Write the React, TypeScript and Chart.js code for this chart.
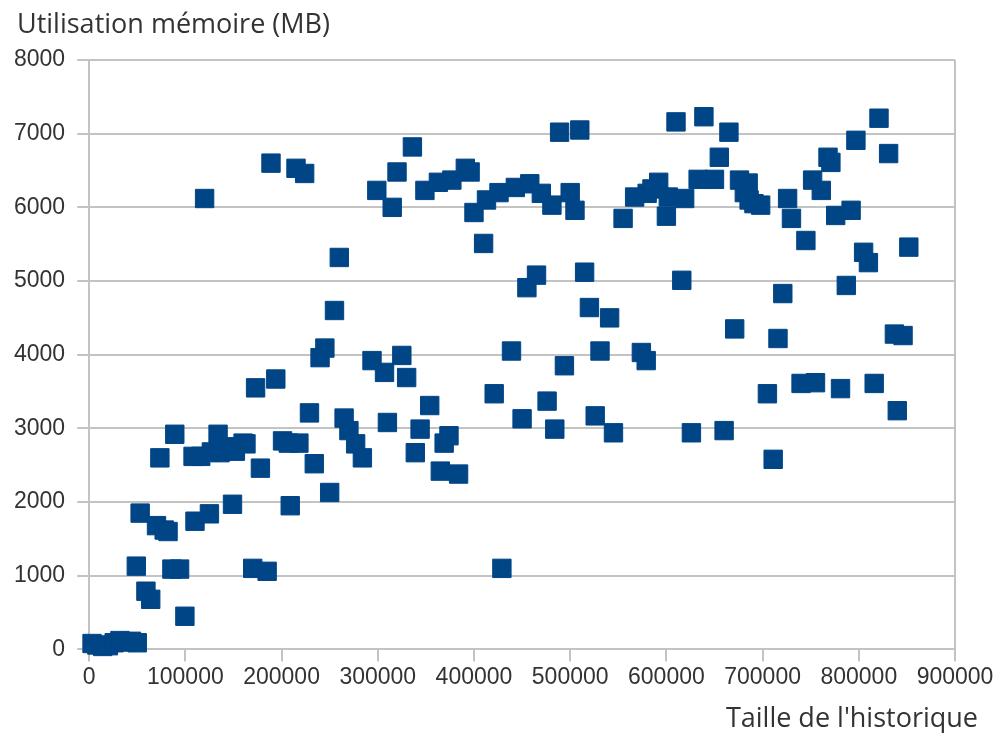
import React, { useEffect, useRef } from 'react';
import { Chart, registerables } from 'chart.js';

Chart.register(...registerables);

// Data
const historySize = [
  3000, 8000, 14000, 20000, 26000, 32000, 38000, 44000, 50000,
  49000, 53000, 59000, 64000, 70000, 73500, 78000, 82000, 86000, 89000,
  94000, 99500, 108000, 110000, 116000, 120000, 125000, 127000, 134000, 136000,
  143000, 149000, 152000, 160000, 163000, 170000, 173000, 178000, 185000, 189000,
  194000, 201000, 207000, 209000, 215000, 218000, 224000, 229000, 234000, 240000,
  245000, 250000, 255000, 260000, 265000, 270000, 277000, 284000, 294000, 299000,
  307000, 310000, 315000, 320000, 325000, 330000, 336000, 339000, 344000, 349000,
  354000, 363000, 365000, 369000, 374000, 377000, 384000, 391000, 396000, 400000,
  410000, 413000, 421000, 426000, 429000, 439000, 443000, 450000, 455000, 458000,
  465000, 470000, 476000, 481000, 484000, 489000, 494000, 500000, 505000, 510000,
  515000, 520000, 526000, 531000, 541000, 545000, 555000, 567000, 574000, 579000,
  580000, 585000, 592000, 600000, 602000, 610000, 616000, 619000, 626000, 633000,
  639000, 650000, 655000, 660000, 665000, 671000, 676000, 681000, 685000, 686000,
  691000, 698000, 705000, 711000, 716000, 721000, 726000, 730000, 740000, 745000,
  752000, 755000, 761000, 768000, 771000, 776000, 781000, 787000, 792000, 797000,
  805000, 810000, 816000, 821000, 831000, 837000, 840000, 846000, 852000,
];

const memoryMB = [
  80, 60, 40, 50, 90, 120, 100, 110, 90,
  1130, 1850, 790, 680, 1680, 2600, 1620, 1600, 1090, 2920,
  1090, 450, 2620, 1740, 2620, 6120, 1840, 2680, 2920, 2670,
  2750, 1970, 2690, 2800, 2790, 1100, 3550, 2460, 1060, 6600,
  3670, 2830, 2800, 1950, 6530, 2800, 6460, 3210, 2520, 3960,
  4090, 2130, 4600, 5320, 3140, 2970, 2790, 2600, 3920, 6230,
  3760, 3080, 6000, 6480, 3990, 3690, 6820, 2670, 2990, 6230,
  3310, 6340, 2420, 2800, 2900, 6370, 2380, 6530, 6480, 5930,
  5510, 6100, 3470, 6200, 1100, 4050, 6270, 3130, 4910, 6320,
  5080, 6190, 3370, 6030, 2990, 7020, 3850, 6200, 5960, 7050,
  5120, 4640, 3170, 4050, 4500, 2940, 5850, 6140, 4030, 3920,
  6190, 6250, 6340, 5880, 6140, 7160, 5010, 6120, 2940, 6380,
  7230, 6380, 6680, 2970, 7020, 4350, 6370, 6200, 6330, 6100,
  6050, 6030, 3470, 2580, 4220, 4830, 6120, 5850, 3610, 5550,
  6370, 3620, 6230, 6680, 6610, 5890, 3540, 4940, 5960, 6910,
  5390, 5250, 3610, 7210, 6730, 4280, 3240, 4260, 5460,
];

const X_MIN = 0;
const X_MAX = 900000;
const X_STEP = 100000;
const Y_MIN = 0;
const Y_MAX = 8000;
const Y_STEP = 1000;

const Y_TITLE = 'Utilisation mémoire (MB)';
const X_TITLE = "Taille de l'historique";

const MARKER = '#004586';
const GRID = '#c3c3c3';
const TEXT = '#333333';
const TICK_FONT = { family: '"Liberation Sans", Arial, sans-serif', size: 23 };

const axisTitles = {
  id: 'axisTitles',
  afterDraw(chart: any) {
    const { ctx, chartArea } = chart;
    ctx.save();
    ctx.font = '27px "Open Sans", sans-serif';
    ctx.fillStyle = TEXT;
    ctx.textBaseline = 'alphabetic';
    ctx.textAlign = 'left';
    ctx.fillText(Y_TITLE, 17, 33);
    ctx.textAlign = 'right';
    ctx.fillText(X_TITLE, chartArea.right + 23, 727);
    ctx.restore();
  },
};

export default function App() {
  const canvasRef = useRef<HTMLCanvasElement | null>(null);

  useEffect(() => {
    let chart: Chart | null = null;
    let cancelled = false;
    const fontsReady = (document as any).fonts
      ? Promise.all([
          (document as any).fonts.load('27px "Open Sans"'),
          (document as any).fonts.load('23px "Liberation Sans"'),
        ]).catch(() => null)
      : Promise.resolve(null);

    fontsReady.then(() => {
      if (cancelled || !canvasRef.current) return;
      const points = historySize.map((x, i) => ({ x, y: memoryMB[i] }));
      chart = new Chart(canvasRef.current, {
        type: 'scatter',
        data: {
          datasets: [
            {
              data: points,
              pointStyle: 'rect',
              pointRadius: 13,
              pointHoverRadius: 13,
              backgroundColor: MARKER,
              borderColor: MARKER,
              borderWidth: 1,
              clip: false as any,
            },
          ],
        },
        options: {
          responsive: false,
          animation: false,
          events: [],
          layout: { padding: { left: 2, right: 48, top: 60, bottom: 40 } },
          plugins: {
            legend: { display: false },
            tooltip: { enabled: false },
            title: { display: false },
          },
          scales: {
            x: {
              type: 'linear',
              min: X_MIN,
              max: X_MAX,
              ticks: {
                stepSize: X_STEP,
                font: TICK_FONT,
                color: TEXT,
                padding: 2,
                maxRotation: 0,
                callback: (v: any) => String(v),
              },
              grid: {
                color: (c: any) => (c.tick && c.tick.value === X_MAX ? GRID : 'rgba(0,0,0,0)'),
                tickColor: GRID,
                tickLength: 12,
                lineWidth: 2,
              },
              border: { display: true, color: GRID, width: 2 },
            },
            y: {
              type: 'linear',
              min: Y_MIN,
              max: Y_MAX,
              ticks: {
                stepSize: Y_STEP,
                font: TICK_FONT,
                color: TEXT,
                padding: 12,
                callback: (v: any) => String(v),
              },
              grid: {
                color: GRID,
                tickColor: GRID,
                tickLength: 12,
                lineWidth: 2,
              },
              border: { display: true, color: GRID, width: 2 },
            },
          },
        },
        plugins: [axisTitles],
      });
    });

    return () => {
      cancelled = true;
      if (chart) chart.destroy();
    };
  }, []);

  return (
    <div style={{ position: 'absolute', left: 0, top: 0, width: 1003, height: 733, background: '#ffffff' }}>
      <canvas ref={canvasRef} width={1003} height={733} style={{ display: 'block' }} />
    </div>
  );
}
